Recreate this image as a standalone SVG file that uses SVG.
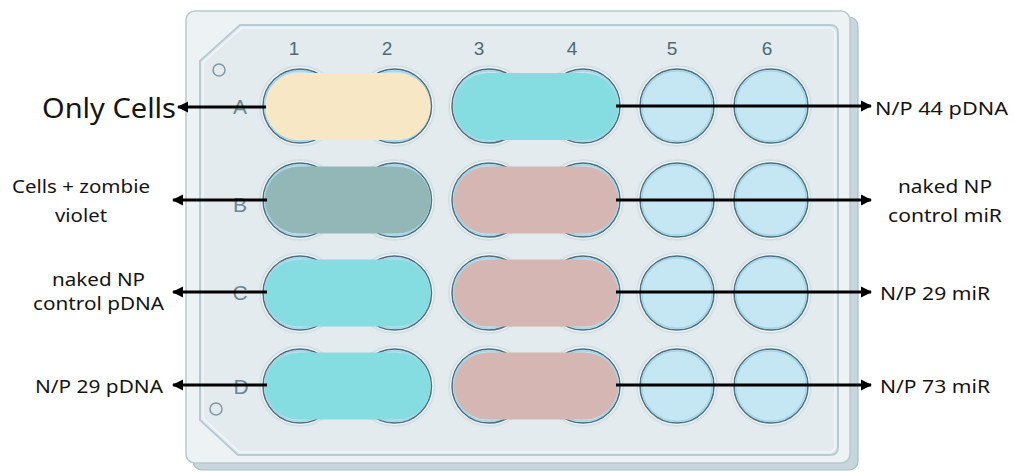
<svg xmlns="http://www.w3.org/2000/svg" width="1014" height="474" viewBox="0 0 1014 474">
<style>
.lbl{font-family:"Noto Sans","DejaVu Sans",sans-serif;font-size:18px;fill:#141414}
.big{font-size:27px}
.num{font-family:"Liberation Sans",Arial,sans-serif;font-size:19px;fill:#4d6a76;text-anchor:middle}
.row{font-family:"Liberation Sans",Arial,sans-serif;font-size:21px;fill:#6a8793;text-anchor:middle}
.halo{fill:#d3e0e6}
.rim{fill:#f3f7f9}
.well{fill:#c5e6f3;stroke:#4f6f7c;stroke-width:1.5}
.edge{fill:none;stroke:#a3d4e8;stroke-width:1.5}
.conn line{stroke:#000;stroke-width:3}
</style>
<defs>
<marker id="ah" markerUnits="userSpaceOnUse" markerWidth="12" markerHeight="12" refX="10" refY="6" orient="auto" viewBox="0 0 12 12">
<path d="M0,0.5 L11,6 L0,11.5 z" fill="#000"/>
</marker>
<g id="w">
<circle r="41" class="halo"/>
<circle r="39" class="rim"/>
<circle r="37" class="well"/>
<circle r="35.3" class="edge"/>
</g>
</defs>
<rect width="1014" height="474" fill="#fff"/>
<g id="plate">
<rect x="193" y="17" width="665" height="453" rx="9" fill="#c7d6dd" stroke="#a9bec7" stroke-width="1.2"/>
<rect x="186" y="11" width="664" height="452" rx="9" fill="#edf2f5" stroke="#b6cad2" stroke-width="1.5"/>
<path d="M240,25 H830 Q838,25 838,33 V447 Q838,455 830,455 H238 L200,420 V61 Z" fill="#e4ebef" stroke="#b8cbd3" stroke-width="2"/>
<path d="M241.5,28 H829 Q835,28 835,34 V446 Q835,452 829,452 H239.5 L203,418.5 V62.5 Z" fill="none" stroke="#f6f9fb" stroke-width="1.2"/>
<circle cx="219" cy="70" r="6" fill="none" stroke="#7f9aa5" stroke-width="1.5"/>
<circle cx="216" cy="409" r="6" fill="none" stroke="#7f9aa5" stroke-width="1.5"/>
<text class="num" x="294" y="55">1</text>
<text class="num" x="387" y="55">2</text>
<text class="num" x="479" y="55">3</text>
<text class="num" x="572" y="55">4</text>
<text class="num" x="672" y="55">5</text>
<text class="num" x="767" y="55">6</text>
<text class="row" x="240" y="114">A</text>
<text class="row" x="240" y="212">B</text>
<text class="row" x="240" y="300">C</text>
<text class="row" x="241" y="394">D</text>
</g>
<g id="wells">
<use href="#w" x="300" y="106"/><use href="#w" x="394.5" y="106"/><use href="#w" x="489" y="106"/><use href="#w" x="583" y="106"/><use href="#w" x="677" y="106"/><use href="#w" x="771" y="106"/>
<use href="#w" x="300" y="200"/><use href="#w" x="394.5" y="200"/><use href="#w" x="489" y="200"/><use href="#w" x="583" y="200"/><use href="#w" x="677" y="200"/><use href="#w" x="771" y="200"/>
<use href="#w" x="300" y="293"/><use href="#w" x="394.5" y="293"/><use href="#w" x="489" y="293"/><use href="#w" x="583" y="293"/><use href="#w" x="677" y="293"/><use href="#w" x="771" y="293"/>
<use href="#w" x="300" y="386"/><use href="#w" x="394.5" y="386"/><use href="#w" x="489" y="386"/><use href="#w" x="583" y="386"/><use href="#w" x="677" y="386"/><use href="#w" x="771" y="386"/>
</g>
<g id="groupA12"><rect x="265" y="73" width="165.5" height="67" rx="33.5" fill="#f8e7c5"/></g>
<g id="groupA34"><rect x="454" y="73" width="164" height="67" rx="33.5" fill="#85dce1"/></g>
<g id="groupB12"><rect x="265" y="166.5" width="165.5" height="67" rx="33.5" fill="#93b7b6"/></g>
<g id="groupB34"><rect x="454" y="166.5" width="164" height="67" rx="33.5" fill="#d5b6b3"/></g>
<g id="groupC12"><rect x="265" y="259.5" width="165.5" height="67" rx="33.5" fill="#85dce1"/></g>
<g id="groupC34"><rect x="454" y="259.5" width="164" height="67" rx="33.5" fill="#d5b6b3"/></g>
<g id="groupD12"><rect x="265" y="352.5" width="165.5" height="67" rx="33.5" fill="#85dce1"/></g>
<g id="groupD34"><rect x="454" y="352.5" width="164" height="67" rx="33.5" fill="#d5b6b3"/></g>
<g class="conn" id="connectors">
<line x1="266" y1="107" x2="178" y2="107" marker-end="url(#ah)"/>
<line x1="616" y1="106" x2="871" y2="106" marker-end="url(#ah)"/>
<line x1="267" y1="200" x2="173" y2="200" marker-end="url(#ah)"/>
<line x1="616" y1="200" x2="871" y2="200" marker-end="url(#ah)"/>
<line x1="267" y1="292" x2="173" y2="292" marker-end="url(#ah)"/>
<line x1="616" y1="292" x2="871" y2="292" marker-end="url(#ah)"/>
<line x1="267" y1="385" x2="173" y2="385" marker-end="url(#ah)"/>
<line x1="616" y1="385" x2="871" y2="385" marker-end="url(#ah)"/>
</g>
<g id="labels">
<text class="lbl big" x="42" y="118" textLength="134" lengthAdjust="spacingAndGlyphs">Only Cells</text>
<text class="lbl" x="12" y="193" textLength="138" lengthAdjust="spacingAndGlyphs">Cells + zombie</text>
<text class="lbl" x="55" y="222" textLength="52" lengthAdjust="spacingAndGlyphs">violet</text>
<text class="lbl" x="52" y="286" textLength="93" lengthAdjust="spacingAndGlyphs">naked NP</text>
<text class="lbl" x="33" y="310" textLength="131" lengthAdjust="spacingAndGlyphs">control pDNA</text>
<text class="lbl" x="35" y="393" textLength="128" lengthAdjust="spacingAndGlyphs">N/P 29 pDNA</text>
<text class="lbl" x="875" y="115" textLength="133" lengthAdjust="spacingAndGlyphs">N/P 44 pDNA</text>
<text class="lbl" x="898" y="193" textLength="94" lengthAdjust="spacingAndGlyphs">naked NP</text>
<text class="lbl" x="888" y="222" textLength="114" lengthAdjust="spacingAndGlyphs">control miR</text>
<text class="lbl" x="880" y="300" textLength="110" lengthAdjust="spacingAndGlyphs">N/P 29 miR</text>
<text class="lbl" x="880" y="393" textLength="110" lengthAdjust="spacingAndGlyphs">N/P 73 miR</text>
</g>
</svg>
